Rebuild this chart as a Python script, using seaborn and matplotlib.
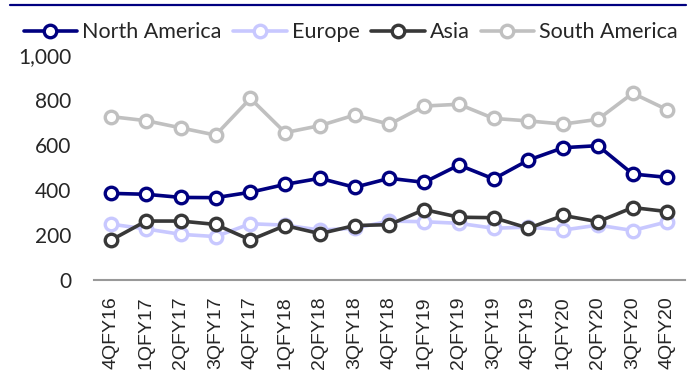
import matplotlib
matplotlib.use("Agg")
import matplotlib.pyplot as plt
from matplotlib.lines import Line2D
from matplotlib.ticker import FuncFormatter
import pandas as pd
import seaborn as sns

quarters = ["4QFY16", "1QFY17", "2QFY17", "3QFY17", "4QFY17", "1QFY18", "2QFY18",
            "3QFY18", "4QFY18", "1QFY19", "2QFY19", "3QFY19", "4QFY19", "1QFY20",
            "2QFY20", "3QFY20", "4QFY20"]

north_america = [385, 381, 367, 366, 390, 425, 452, 412, 452, 434, 511, 449, 533, 588, 597, 471, 456]
europe        = [248, 227, 203, 193, 250, 244, 222, 230, 262, 259, 252, 230, 235, 222, 244, 220, 259]
asia          = [178, 262, 262, 247, 178, 242, 206, 242, 246, 313, 279, 277, 230, 287, 259, 322, 304]
south_america = [726, 708, 676, 644, 807, 655, 686, 733, 692, 773, 781, 718, 707, 693, 714, 830, 756]

series_names = ["North America", "Europe", "Asia", "South America"]
colors = ["#000080", "#C8C8FF", "#383838", "#C0C0C0"]

sns.set_style("white")

df = pd.DataFrame({
    "idx": list(range(len(quarters))) * 4,
    "value": north_america + europe + asia + south_america,
    "region": [n for n in series_names for _ in quarters],
})

fig = plt.figure(figsize=(6.96, 3.74), dpi=100)
ax = fig.add_axes([0.135, 0.2513, 0.849, 0.6017])

# draw order so the overlaps look like the original
draw_order = ["South America", "Europe", "Asia", "North America"]
for name in draw_order:
    c = colors[series_names.index(name)]
    sub = df[df["region"] == name]
    sns.lineplot(data=sub, x="idx", y="value", ax=ax, color=c,
                 linewidth=2.6, marker="o", markersize=9, markerfacecolor="white",
                 markeredgecolor=c, markeredgewidth=2.4, legend=False)

ax.set_xlim(-0.5, len(quarters) - 0.5)
ax.set_ylim(0, 1000)
ax.set_yticks([0, 200, 400, 600, 800, 1000])
ax.yaxis.set_major_formatter(FuncFormatter(lambda v, p: "{:,.0f}".format(v)))
ax.set_xticks(range(len(quarters)))
ax.set_xticklabels(quarters, rotation=90, fontsize=14, family="Liberation Sans")
for lab in ax.get_yticklabels():
    lab.set_family("Lato")
    lab.set_fontsize(15)
ax.tick_params(axis="y", length=0, pad=16.5)
ax.tick_params(axis="x", length=0, pad=12)
ax.set_xlabel("")
ax.set_ylabel("")

for s in ["top", "right", "left"]:
    ax.spines[s].set_visible(False)
ax.spines["bottom"].set_color("#999999")
ax.spines["bottom"].set_linewidth(1.5)

handles = [Line2D([0], [0], color=c, linewidth=2.6, marker="o", markersize=9,
                  markerfacecolor="white", markeredgecolor=c, markeredgewidth=2.4)
           for c in colors]
fig.legend(handles, series_names, loc="center left", bbox_to_anchor=(0.006, 0.914),
           ncol=4, frameon=False, handlelength=2.5, handletextpad=0.23,
           columnspacing=0.52, prop={"family": "Lato", "size": 15.5})

# thin navy rule at the very top
fig.add_artist(Line2D([0.014, 0.986], [0.986, 0.986], color="#000080", linewidth=1.6,
                      transform=fig.transFigure))

plt.savefig("out.png", dpi=100)
